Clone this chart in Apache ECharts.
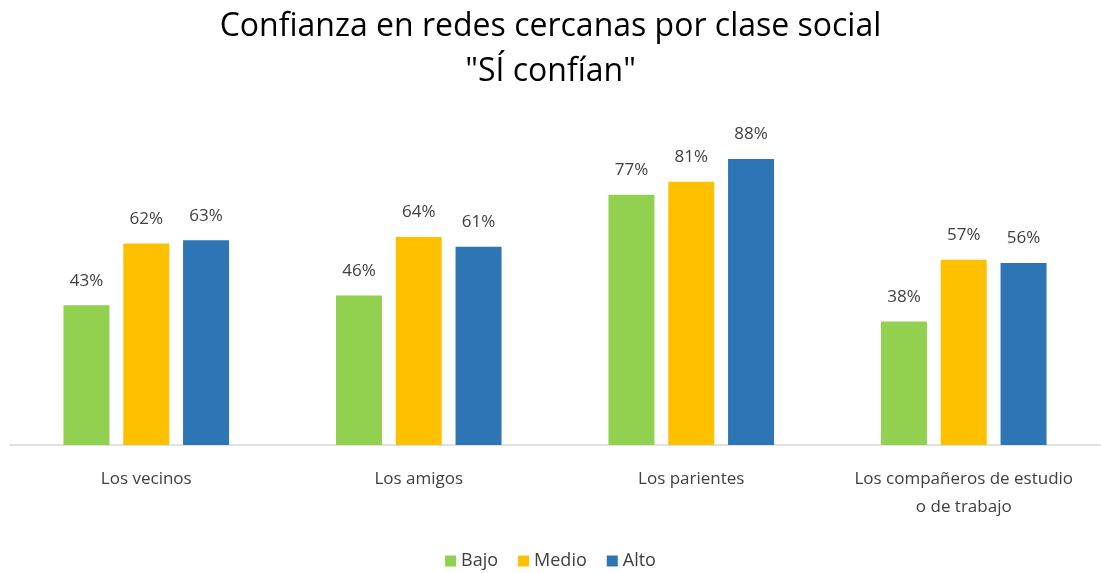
<!DOCTYPE html>
<html>
<head>
<meta charset="utf-8">
<script src="https://cdn.jsdelivr.net/npm/echarts@6/dist/echarts.min.js"></script>
<style>
  html, body { margin: 0; padding: 0; background: #fff; }
  #chart { width: 1101px; height: 573px; }
</style>
</head>
<body>
<div id="chart"></div>
<script>
// Trust in close networks by social class ("Sí confían"), in percent
const categories = ['Los vecinos', 'Los amigos', 'Los parientes', 'Los compañeros de estudio\no de trabajo'];
const bajo = [43, 46, 77, 38];
const medio = [62, 64, 81, 57];
const alto = [63, 61, 88, 56];

const FONT = '"Open Sans", "Noto Sans", sans-serif';
const TEXT = '#404040';

const labelCfg = {
  show: true,
  position: 'top',
  distance: 16,
  formatter: p => p.value + '%',
  fontFamily: FONT,
  fontSize: 17,
  color: TEXT
};

function bar(name, data, color) {
  return {
    name, type: 'bar', data,
    barWidth: 46,
    barGap: '30%',
    itemStyle: { color },
    label: labelCfg
  };
}

const chart = echarts.init(document.getElementById('chart'), null, { renderer: 'canvas' });
chart.setOption({
  animation: false,
  title: {
    text: 'Confianza en redes cercanas por clase social\n"SÍ confían"',
    left: 'center',
    top: -1,
    textStyle: { fontFamily: FONT, fontSize: 32, fontWeight: 'normal', color: '#000', lineHeight: 45 }
  },
  legend: {
    top: 547,
    left: 'center',
    itemWidth: 11, itemHeight: 11, itemGap: 20,
    icon: 'rect',
    textStyle: { fontFamily: FONT, fontSize: 18, color: TEXT }
  },
  grid: { left: 10, right: 1, top: 120, bottom: 128 },
  xAxis: {
    type: 'category',
    data: categories,
    axisLine: { lineStyle: { color: '#d9d9d9', width: 1.5 } },
    axisTick: { show: false },
    axisLabel: { fontFamily: FONT, fontSize: 17, color: TEXT, margin: 20, lineHeight: 28, interval: 0 }
  },
  yAxis: {
    type: 'value', min: 0, max: 100,
    show: false,
    splitLine: { show: false }
  },
  series: [
    bar('Bajo', bajo, '#92D050'),
    bar('Medio', medio, '#FFC000'),
    bar('Alto', alto, '#2E75B6')
  ]
});
</script>
</body>
</html>
